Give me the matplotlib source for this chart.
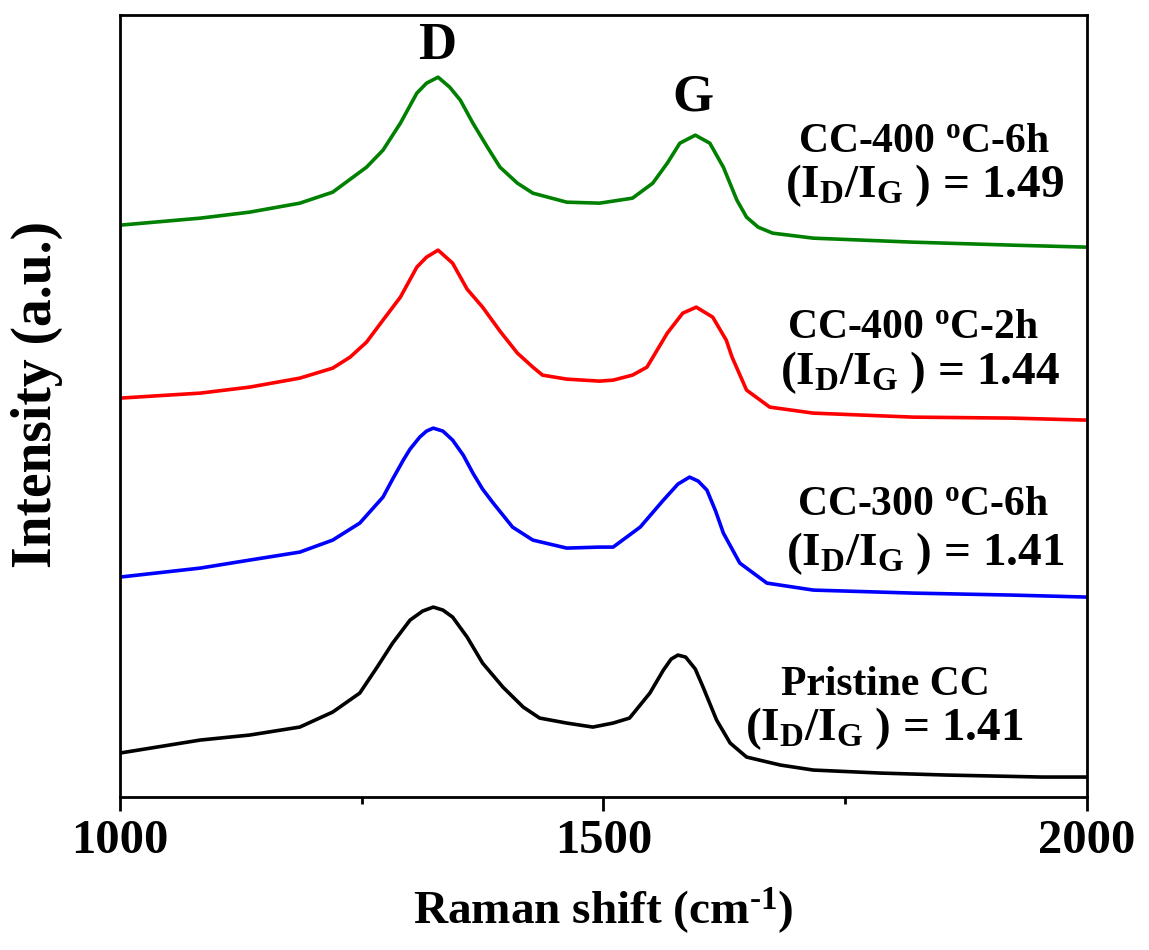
import matplotlib
matplotlib.use("Agg")
import matplotlib.pyplot as plt
from matplotlib.ticker import FixedLocator

plt.rcParams['font.family'] = ['Liberation Serif', 'DejaVu Serif']
plt.rcParams['font.weight'] = 'bold'
plt.rcParams['mathtext.fontset'] = 'custom'
plt.rcParams['mathtext.rm'] = 'Liberation Serif:bold'
plt.rcParams['mathtext.bf'] = 'Liberation Serif:bold'
plt.rcParams['mathtext.it'] = 'Liberation Serif:bold'
plt.rcParams['mathtext.default'] = 'bf'

# ---- data (intensity in arbitrary units) ----
pristine_x = [1000, 1083, 1134, 1186, 1220, 1248, 1266, 1282, 1300, 1313, 1324, 1334, 1344, 1359,
              1375, 1396, 1417, 1434, 1462, 1489, 1510, 1527, 1548, 1562, 1570, 1577, 1585, 1595,
              1603, 1617, 1631, 1648, 1683, 1717, 1786, 1855, 1954, 2000]
pristine_y = [44, 57, 62, 70, 85, 104, 130, 154, 177, 186, 190, 187, 180, 160,
              134, 110, 90, 79, 74, 70, 74, 79, 104, 127, 138, 142, 140, 128,
              110, 77, 54, 40, 32, 27, 24, 22, 20, 20]

cc300_6h_x = [1000, 1083, 1134, 1186, 1220, 1248, 1272, 1282, 1293, 1300, 1310, 1317, 1324, 1334,
              1344, 1355, 1365, 1375, 1386, 1406, 1427, 1462, 1496, 1510, 1538, 1562, 1577, 1589,
              1598, 1607, 1616, 1624, 1641, 1669, 1717, 1820, 1923, 2000]
cc300_6h_y = [220, 229, 237, 245, 257, 274, 300, 318, 337, 348, 360, 366, 369, 366,
              357, 342, 324, 308, 294, 270, 257, 249, 250, 250, 270, 297, 313, 320,
              316, 307, 286, 264, 234, 214, 207, 204, 202, 200]

cc400_2h_x = [1000, 1083, 1134, 1186, 1220, 1238, 1255, 1272, 1290, 1307, 1317, 1329, 1344, 1359,
              1375, 1393, 1411, 1427, 1437, 1462, 1479, 1496, 1510, 1530, 1545, 1566, 1582, 1596,
              1613, 1627, 1633, 1648, 1672, 1717, 1820, 1923, 2000]
cc400_2h_y = [399, 404, 410, 419, 429, 440, 455, 477, 500, 530, 540, 547, 534, 508,
              490, 466, 444, 430, 422, 418, 417, 416, 417, 422, 430, 464, 484, 490,
              480, 457, 440, 407, 390, 384, 380, 379, 377]

cc400_6h_x = [1000, 1083, 1134, 1186, 1220, 1255, 1272, 1290, 1307, 1317, 1329, 1341, 1352, 1365,
              1380, 1393, 1411, 1427, 1462, 1496, 1530, 1551, 1566, 1579, 1595, 1610, 1624, 1638,
              1648, 1660, 1675, 1717, 1820, 1923, 2000]
cc400_6h_y = [572, 579, 585, 594, 605, 630, 647, 674, 704, 714, 720, 710, 697, 674,
              650, 630, 614, 604, 595, 594, 599, 614, 634, 654, 662, 654, 630, 597,
              580, 570, 564, 559, 555, 552, 550]

sample_names = ['Pristine CC', 'CC-300 $^{o}$C-6h', 'CC-400 $^{o}$C-2h', 'CC-400 $^{o}$C-6h']
ratios = ['1.41', '1.41', '1.44', '1.49']
colors = ['black', '#0000ff', '#ff0000', '#008000']

xticks_major = [1000, 1500, 2000]
xticks_minor = [1250, 1750]

# ---- figure ----
fig = plt.figure(figsize=(11.49, 9.50), dpi=100)
ax = fig.add_axes([0.1044, 0.161, 0.8416, 0.823])

series = [(pristine_x, pristine_y), (cc300_6h_x, cc300_6h_y),
          (cc400_2h_x, cc400_2h_y), (cc400_6h_x, cc400_6h_y)]
for (xs, ys), c in zip(series, colors):
    ax.plot(xs, ys, color=c, lw=2.6, solid_joinstyle='round')

ax.set_xlim(1000, 2000)
ax.set_ylim(0, 782)
ax.set_yticks([])
ax.xaxis.set_major_locator(FixedLocator(xticks_major))
ax.xaxis.set_minor_locator(FixedLocator(xticks_minor))
ax.tick_params(axis='x', which='major', direction='out', length=10, width=2,
               labelsize=35, pad=6)
ax.tick_params(axis='x', which='minor', direction='out', length=5, width=2)
for lab in ax.get_xticklabels():
    lab.set_fontweight('bold')
for s in ax.spines.values():
    s.set_linewidth(2)

ax.set_xlabel(r'Raman shift (cm$^{\text{-}1}$)', fontsize=34, fontweight='bold', va='center')
ax.xaxis.set_label_coords(0.5, (797 - 911) / 782)
ax.set_ylabel('Intensity (a.u.)', fontsize=40, fontweight='bold', va='center')
ax.yaxis.set_label_coords((37 - 120) / 967, (797 - 394) / 782)

# peak labels
ax.text((437 - 120) / 967, (797 - 46) / 782, 'D', transform=ax.transAxes,
        fontsize=38, fontweight='bold', ha='center', va='center')
ax.text((693 - 120) / 967, (797 - 97) / 782, 'G', transform=ax.transAxes,
        fontsize=38, fontweight='bold', ha='center', va='center')

# annotations (pixel centres converted to axes fraction)
name_pos = [(885, 685), (923, 505), (913, 328), (924, 142)]
ratio_pos = [(884, 728), (925, 553), (920, 372), (925, 185)]
for name, r, (nx, ny), (rx, ry) in zip(sample_names, ratios, name_pos, ratio_pos):
    ax.text((nx - 120) / 967, (797 - ny) / 782, name, transform=ax.transAxes,
            fontsize=30, fontweight='bold', ha='center', va='center')
    ax.text((rx - 120) / 967, (797 - ry) / 782, '(I$_{D}$/I$_{G}$ ) = ' + r,
            transform=ax.transAxes, fontsize=34, fontweight='bold',
            ha='center', va='center')

fig.savefig('out.png', dpi=100)
